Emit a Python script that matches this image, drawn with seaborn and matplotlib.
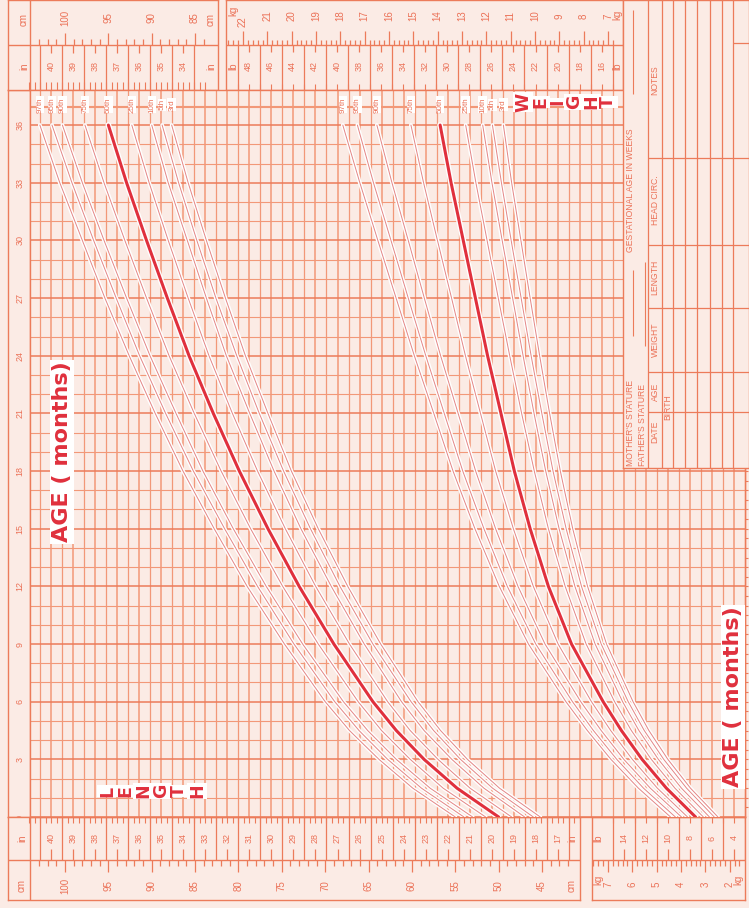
import numpy as np
import pandas as pd
import matplotlib
matplotlib.use("Agg")
import matplotlib.pyplot as plt
import matplotlib.patheffects as pe
import seaborn as sns

# ---------------- data ----------------
ages = [0, 1.5, 3, 4.5, 6, 9, 12, 15, 18, 21, 24, 27, 30, 33, 36]
pct_labels = ["97th", "95th", "90th", "75th", "50th", "25th", "10th", "5th", "3rd"]

len_97 = [55.0, 59.9, 63.8, 67.2, 70.0, 74.7, 79.0, 82.8, 86.4, 89.6, 92.6, 95.4, 98.0, 100.6, 102.9]
len_95 = [54.0, 58.9, 62.8, 66.1, 68.9, 73.6, 77.8, 81.6, 85.2, 88.4, 91.4, 94.1, 96.7, 99.2, 101.5]
len_90 = [53.0, 57.9, 61.8, 65.1, 67.9, 72.6, 76.8, 80.6, 84.1, 87.2, 90.2, 92.9, 95.5, 98.0, 100.3]
len_75 = [51.5, 56.4, 60.2, 63.5, 66.2, 70.8, 74.9, 78.6, 82.0, 85.1, 88.0, 90.6, 93.1, 95.5, 97.7]
len_50 = [50.0, 54.8, 58.6, 61.8, 64.5, 69.0, 73.0, 76.6, 79.9, 82.9, 85.7, 88.2, 90.6, 92.9, 95.0]
len_25 = [48.5, 53.3, 57.0, 60.2, 62.8, 67.2, 71.1, 74.6, 77.8, 80.7, 83.4, 85.8, 88.1, 90.3, 92.3]
len_10 = [47.0, 51.7, 55.4, 58.6, 61.2, 65.5, 69.3, 72.8, 75.9, 78.7, 81.4, 83.7, 85.9, 88.1, 90.0]
len_5 = [46.0, 50.7, 54.4, 57.5, 60.1, 64.5, 68.3, 71.7, 74.8, 77.6, 80.2, 82.6, 84.8, 86.9, 88.8]
len_3 = [45.2, 49.9, 53.6, 56.7, 59.3, 63.6, 67.4, 70.8, 73.9, 76.6, 79.2, 81.5, 83.7, 85.8, 87.7]

wt_97 = [4.43, 5.75, 6.88, 7.85, 8.73, 10.27, 11.47, 12.47, 13.37, 14.16, 14.96, 15.71, 16.46, 17.20, 17.9]
wt_95 = [4.23, 5.54, 6.64, 7.60, 8.46, 9.97, 11.14, 12.10, 12.97, 13.73, 14.49, 15.21, 15.92, 16.64, 17.3]
wt_90 = [3.98, 5.26, 6.35, 7.28, 8.12, 9.59, 10.70, 11.62, 12.44, 13.16, 13.88, 14.55, 15.21, 15.88, 16.5]
wt_75 = [3.73, 4.97, 6.00, 6.89, 7.68, 9.05, 10.07, 10.89, 11.62, 12.24, 12.86, 13.43, 14.01, 14.58, 15.1]
wt_50 = [3.40, 4.60, 5.60, 6.45, 7.20, 8.50, 9.45, 10.20, 10.85, 11.40, 11.95, 12.45, 12.95, 13.45, 13.9]
wt_25 = [3.08, 4.25, 5.22, 6.04, 6.73, 7.90, 8.76, 9.45, 10.03, 10.55, 11.04, 11.51, 11.97, 12.43, 12.85]
wt_10 = [2.83, 3.98, 4.93, 5.73, 6.40, 7.53, 8.36, 9.01, 9.56, 10.04, 10.49, 10.92, 11.35, 11.77, 12.15]
wt_5 = [2.63, 3.77, 4.71, 5.51, 6.17, 7.28, 8.09, 8.72, 9.26, 9.72, 10.16, 10.57, 10.98, 11.38, 11.75]
wt_3 = [2.48, 3.61, 4.54, 5.32, 5.97, 7.06, 7.84, 8.45, 8.96, 9.40, 9.81, 10.20, 10.58, 10.96, 11.3]

age_ticks = [0, 3, 6, 9, 12, 15, 18, 21, 24, 27, 30, 33, 36]
cm_top_labels = [85, 90, 95, 100]
cm_bottom_labels = [45, 50, 55, 60, 65, 70, 75, 80, 85, 90, 95, 100]
kg_top_labels = [7, 8, 9, 10, 11, 12, 13, 14, 15, 16, 17, 18, 19, 20, 21, 22]
kg_bottom_labels = [2, 3, 4, 5, 6, 7]

len_series = [len_97, len_95, len_90, len_75, len_50, len_25, len_10, len_5, len_3]
wt_series = [wt_97, wt_95, wt_90, wt_75, wt_50, wt_25, wt_10, wt_5, wt_3]

rows = []
for lab, ls, ws in zip(pct_labels, len_series, wt_series):
    for a, l, w in zip(ages, ls, ws):
        rows.append({"pct": lab, "age": a, "length": l, "weight": w})
df = pd.DataFrame(rows)

# ---------------- style ----------------
sns.set_theme(style="white")
plt.rcParams["font.family"] = ["Liberation Sans", "DejaVu Sans"]

PAPER = "#fbebe5"
GRID = "#f29878"
GRID_D = "#ec7b5a"
INK = "#eb7157"
RED = "#e0303d"
THIN = "#e48686"

W, H = 749, 908
fig = plt.figure(figsize=(W / 100, H / 100), dpi=100)
fig.patch.set_facecolor(PAPER)

X_L100, PX_CM = 65.0, 8.673      # x pixel of 100 cm, pixels per cm
X_W7, PX_KG = 608.0, 24.33       # x pixel of 7 kg, pixels per kg
Y_A0, PX_MO = 817.0, 19.22       # y pixel of age 0, pixels per month


def box(x0, y0, x1, y1, z=1):
    return fig.add_axes([x0 / W, 1 - y1 / H, (x1 - x0) / W, (y1 - y0) / H], zorder=z)


def len_lim(a, b):
    return (100 + (X_L100 - a) / PX_CM, 100 - (b - X_L100) / PX_CM)


def kg_lim(a, b):
    return (7 + (X_W7 - a) / PX_KG, 7 - (b - X_W7) / PX_KG)


def clean(a, face=PAPER):
    a.set_facecolor(face)
    a.set_xticks([])
    a.set_yticks([])
    for s in a.spines.values():
        s.set_color(GRID_D)
        s.set_linewidth(1.0)


# ---------------- main chart ----------------
ax = box(30, 90, 745, Y_A0, z=2)
clean(ax)
ax.set_xlim(*len_lim(30, 745))
ax.set_ylim(0, (Y_A0 - 90) / PX_MO)

inch_grid = np.arange(8, 42.01, 0.5) * 2.54
for i, v in enumerate(inch_grid):
    ax.axvline(v, color=GRID, lw=0.9 if i % 2 else 1.1, zorder=1)
for m in range(0, 38):
    ax.axhline(m, color=GRID_D if m % 3 == 0 else GRID, lw=1.1 if m % 3 == 0 else 0.8, zorder=1)
ax.axhline(36.95, color=GRID, lw=0.8, zorder=1)


def draw_curves(a, col):
    for lab in pct_labels:
        d = df[df.pct == lab]
        thick = lab == "50th"
        sns.lineplot(data=d, x=col, y="age", ax=a, sort=False, estimator=None,
                     color=RED if thick else THIN, lw=2.2 if thick else 0.7,
                     path_effects=[pe.Stroke(linewidth=4.2 if thick else 2.8, foreground="white"),
                                   pe.Normal()],
                     zorder=4 if thick else 3, legend=False)
    a.set_xlabel("")
    a.set_ylabel("")


draw_curves(ax, "length")

axw = ax.twiny()
axw.set_xlim(*kg_lim(30, 745))
axw.set_xticks([])
for s in axw.spines.values():
    s.set_visible(False)
draw_curves(axw, "weight")

# percentile labels in the band above 36 months
lab_age = 37.05
for lab, ls in zip(pct_labels, len_series):
    ax.text(ls[-1], lab_age, lab, rotation=90, ha="center", va="center", fontsize=5.8,
            color=INK, zorder=6, bbox=dict(fc="white", ec="none", pad=0.5))
for lab, ws in zip(pct_labels, wt_series):
    axw.text(ws[-1], lab_age, lab, rotation=90, ha="center", va="center", fontsize=5.8,
             color=INK, zorder=6, bbox=dict(fc="white", ec="none", pad=0.5))

# titles inside chart (stacked letters, rotated with the sheet)
ttl = dict(rotation=90, ha="center", va="center", fontsize=12.5, fontweight="bold",
           color=RED, family="DejaVu Sans", zorder=10)
for i, ch in enumerate("LENGTH"):
    fig.text((107 + i * 18) / W, 1 - 791 / H, ch,
             bbox=dict(fc="white", ec="none", pad=0.4), **ttl)
for i, ch in enumerate("WEIGHT"):
    fig.text((523 + i * 17) / W, 1 - 102 / H, ch,
             bbox=dict(fc="white", ec="none", pad=0.4), **ttl)
age_kw = dict(rotation=90, ha="center", va="center", fontsize=16, fontweight="bold",
              color=RED, family="DejaVu Sans", zorder=10)
fig.text(62 / W, 1 - 452 / H, "AGE ( months)", bbox=dict(fc="white", ec="none", pad=1.5), **age_kw)
fig.text(733 / W, 1 - 697 / H, "AGE ( months)", bbox=dict(fc="white", ec="none", pad=1.5), **age_kw)

# ---------------- age strip (left) ----------------
axa = box(8, 90, 30, Y_A0, z=1)
clean(axa)
axa.set_ylim(0, (Y_A0 - 90) / PX_MO)
axa.set_xlim(0, 1)
for a in age_ticks:
    axa.text(0.55, a, str(a), rotation=90, ha="center", va="center", fontsize=6.5, color=INK)

# right edge ticks
axr = box(745, 90, 749, Y_A0, z=1)
clean(axr)
axr.set_ylim(0, (Y_A0 - 90) / PX_MO)
axr.set_xlim(0, 1)
for s in ["right", "top", "bottom"]:
    axr.spines[s].set_visible(False)
axr.hlines(np.arange(0, 37, 0.5), 0, 0.8, color=GRID_D, lw=0.8)


def rot(a, x, y, s, size=7, **kw):
    a.text(x, y, s, rotation=90, ha="center", va="center", fontsize=size, color=INK, **kw)


# ---------------- top length strip ----------------
t1 = box(8, 0, 218, 90)
clean(t1)
t1.set_xlim(*len_lim(8, 218))
t1.set_ylim(90, 0)
t1.axhline(45, color=GRID_D, lw=1)
t1.axvline(len_lim(8, 30)[1], color=GRID_D, lw=1)
for c in range(84, 104):
    t1.vlines(c, 45 - (12 if c % 5 == 0 else 6), 45, color=GRID_D, lw=0.9)
for c in cm_top_labels:
    rot(t1, c, 18, str(c))
for v in np.arange(33, 41.01, 0.25) * 2.54:
    t1.vlines(v, 82, 90, color=GRID_D, lw=0.8)
for v in np.arange(33.5, 41, 1.0) * 2.54:
    t1.vlines(v, 45, 90, color=GRID_D, lw=0.9)
for i in range(34, 41):
    t1.vlines(i * 2.54, 45, 53, color=GRID_D, lw=0.9)
    rot(t1, i * 2.54, 66, str(i), size=6.5)
rot(t1, len_lim(8, 24)[1], 20, "cm")
rot(t1, len_lim(8, 24)[1], 66, "in")
rot(t1, len_lim(8, 211)[1], 20, "cm")
rot(t1, len_lim(8, 211)[1], 66, "in")

# ---------------- top weight strip ----------------
t2 = box(226, 0, 623, 90)
clean(t2)
t2.set_xlim(*kg_lim(226, 623))
t2.set_ylim(90, 0)
t2.axhline(45, color=GRID_D, lw=1)
for k in np.arange(6.8, 22.81, 0.2):
    major = abs(k - round(k)) < 1e-6
    t2.vlines(k, 45 - (14 if major else 5), 45, color=GRID_D, lw=0.9)
for k in kg_top_labels:
    rot(t2, k, 16 if k < 22 else 22, str(k))
for lb in range(15, 50):
    t2.vlines(lb * 0.45359, 84, 90, color=GRID_D, lw=0.8)
for lb in range(15, 50, 2):
    t2.vlines(lb * 0.45359, 45, 90, color=GRID_D, lw=0.9)
for lb in range(16, 50, 2):
    t2.vlines(lb * 0.45359, 45, 52, color=GRID_D, lw=0.9)
    rot(t2, lb * 0.45359, 66, str(lb), size=6.5)
rot(t2, kg_lim(226, 233)[1], 11, "kg")
rot(t2, kg_lim(226, 233)[1], 66, "lb")
rot(t2, kg_lim(226, 617)[1], 15, "kg")
rot(t2, kg_lim(226, 617)[1], 66, "lb")

# ---------------- bottom length strip ----------------
b1 = box(8, Y_A0, 580, 900)
clean(b1)
b1.set_xlim(*len_lim(8, 580))
b1.set_ylim(900, Y_A0)
b1.axhline(860, color=GRID_D, lw=1)
b1.axvline(len_lim(8, 30)[1], color=GRID_D, lw=1)
for v in np.arange(16, 41.01, 0.25) * 2.54:
    b1.vlines(v, Y_A0, Y_A0 + 6, color=GRID_D, lw=0.8)
for v in np.arange(16.5, 41, 1.0) * 2.54:
    b1.vlines(v, Y_A0, 860, color=GRID_D, lw=0.9)
for i in range(17, 41):
    b1.vlines(i * 2.54, 849, 860, color=GRID_D, lw=0.9)
    rot(b1, i * 2.54, 838, str(i), size=6.5)
for c in range(42, 104):
    b1.vlines(c, 860, 860 + (12 if c % 5 == 0 else 6), color=GRID_D, lw=0.9)
for c in cm_bottom_labels:
    rot(b1, c, 886, str(c))
rot(b1, len_lim(8, 22)[1], 838, "in")
rot(b1, len_lim(8, 22)[1], 886, "cm")
rot(b1, len_lim(8, 572)[1], 838, "in")
rot(b1, len_lim(8, 572)[1], 886, "cm")

# ---------------- bottom weight strip ----------------
b2 = box(592, Y_A0, 745, 900)
clean(b2)
b2.set_xlim(*kg_lim(592, 745))
b2.set_ylim(900, Y_A0)
b2.axhline(860, color=GRID_D, lw=1)
for lb in range(3, 16):
    b2.vlines(lb * 0.45359, Y_A0, Y_A0 + 6, color=GRID_D, lw=0.8)
for lb in range(3, 16, 2):
    b2.vlines(lb * 0.45359, Y_A0, 860, color=GRID_D, lw=0.9)
for lb in range(4, 16, 2):
    b2.vlines(lb * 0.45359, 849, 860, color=GRID_D, lw=0.9)
    rot(b2, lb * 0.45359, 838, str(lb), size=6.5)
for k in np.arange(1.6, 7.61, 0.2):
    major = abs(k - round(k)) < 1e-6
    b2.vlines(k, 860, 860 + (12 if major else 6), color=GRID_D, lw=0.9)
for k in kg_bottom_labels:
    rot(b2, k, 884, str(k))
rot(b2, kg_lim(592, 598)[1], 838, "lb")
rot(b2, kg_lim(592, 598)[1], 880, "kg")
rot(b2, kg_lim(592, 738)[1], 880, "kg")

# ---------------- record table (top right) ----------------
tb = box(623, 0, 749, 468, z=5)
clean(tb)
tb.set_xlim(623, 749)
tb.set_ylim(468, 0)
for x in [648, 662, 673, 685, 697, 710, 722, 733]:
    tb.vlines(x, 0, 468, color=GRID_D, lw=0.9)
for y in [158, 245, 308, 372, 412]:
    tb.hlines(y, 648, 749, color=GRID_D, lw=0.9)
tb.hlines(43, 733, 749, color=GRID_D, lw=0.9)
txt = dict(rotation=90, fontsize=6.2, color=INK)
tb.text(630, 466, "MOTHER'S STATURE", ha="center", va="bottom", **txt)
tb.text(642, 466, "FATHER'S STATURE", ha="center", va="bottom", **txt)
tb.vlines(633, 270, 336, color=GRID_D, lw=0.8)
tb.vlines(645, 262, 346, color=GRID_D, lw=0.8)
tb.text(630, 252, "GESTATIONAL AGE IN WEEKS", ha="center", va="bottom", **txt)
tb.vlines(633, 10, 94, color=GRID_D, lw=0.8)
for name, yc in [("DATE", 432), ("AGE", 392), ("WEIGHT", 340), ("LENGTH", 277),
                 ("HEAD CIRC.", 200), ("NOTES", 80)]:
    tb.text(655, yc, name, ha="center", va="center", **txt)
tb.text(668, 407, "BIRTH", ha="center", va="center", **txt)

fig.savefig("out.png", dpi=100, facecolor=PAPER)
